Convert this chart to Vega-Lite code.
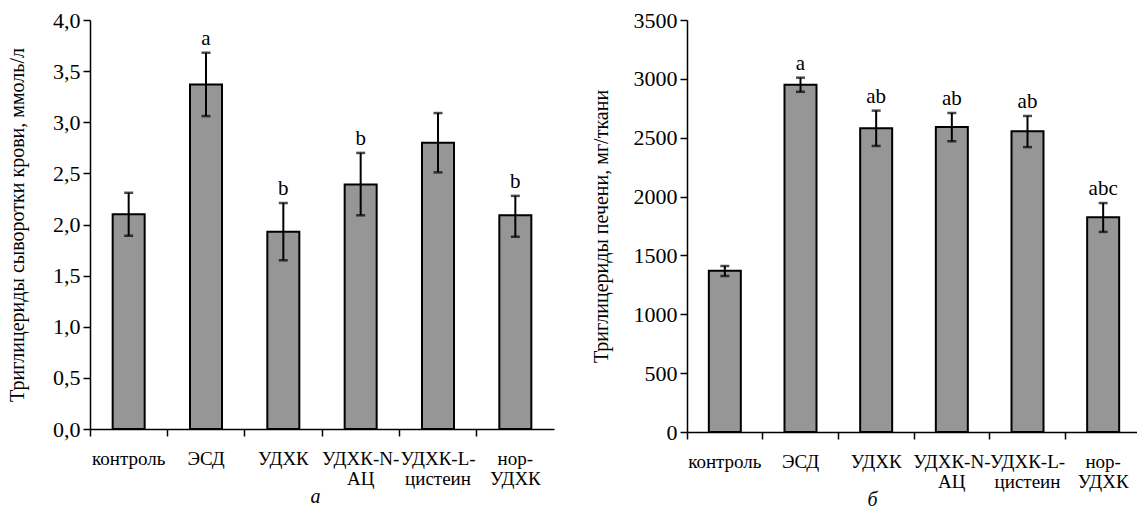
{
  "$schema": "https://vega.github.io/schema/vega-lite/v6.json",
  "background": "white",
  "padding": {"left": 7, "top": 9, "right": 0, "bottom": 0},
  "config": {
    "font": "Liberation Serif",
    "view": {"stroke": null},
    "text": {"font": "Liberation Serif"},
    "axis": {"domainColor": "black", "tickColor": "black", "labelColor": "black", "titleColor": "black", "labelFont": "Liberation Serif", "titleFont": "Liberation Serif", "titleFontWeight": "normal", "domainWidth": 1.5, "tickWidth": 1.5}
  },
  "datasets": {
    "blood": [
      {"group": "контроль", "value": 2.10, "lo": 1.89, "hi": 2.31, "sig": ""},
      {"group": "ЭСД", "value": 3.37, "lo": 3.06, "hi": 3.68, "sig": "a"},
      {"group": "УДХК", "value": 1.93, "lo": 1.65, "hi": 2.21, "sig": "b"},
      {"group": "УДХК-N-|АЦ", "value": 2.39, "lo": 2.09, "hi": 2.70, "sig": "b"},
      {"group": "УДХК-L-|цистеин", "value": 2.80, "lo": 2.51, "hi": 3.09, "sig": ""},
      {"group": "нор-|УДХК", "value": 2.09, "lo": 1.88, "hi": 2.28, "sig": "b"}
    ],
    "liver": [
      {"group": "контроль", "value": 1370, "lo": 1325, "hi": 1410, "sig": ""},
      {"group": "ЭСД", "value": 2950, "lo": 2890, "hi": 3010, "sig": "a"},
      {"group": "УДХК", "value": 2580, "lo": 2430, "hi": 2730, "sig": "ab"},
      {"group": "УДХК-N-|АЦ", "value": 2590, "lo": 2470, "hi": 2710, "sig": "ab"},
      {"group": "УДХК-L-|цистеин", "value": 2555, "lo": 2420, "hi": 2685, "sig": "ab"},
      {"group": "нор-|УДХК", "value": 1825, "lo": 1700, "hi": 1945, "sig": "abc"}
    ]
  },
  "hconcat": [
    {
      "width": 464,
      "height": 409,
      "data": {"name": "blood"},
      "encoding": {
        "x": {"field": "group", "type": "nominal", "sort": null, "scale": {"paddingInner": 0, "paddingOuter": 0},
          "axis": {"title": "а", "titleFont": "Liberation Serif", "titleFontStyle": "italic", "titleFontSize": 20, "titlePadding": -2, "titleX": 225, "labelAngle": 0, "labelFont": "Liberation Serif", "labelFontSize": 19, "labelExpr": "split(datum.label, '|')", "labelPadding": 13, "labelLineHeight": 20, "ticks": true, "tickSize": 7, "bandPosition": 0, "labelBound": false, "labelOverlap": false}}
      },
      "layer": [
        {"mark": {"type": "bar", "size": 32, "fill": "#969696", "stroke": "black", "strokeWidth": 2},
          "encoding": {"y": {"field": "value", "type": "quantitative", "scale": {"domain": [0, 4]},
            "axis": {"title": "Триглицериды сыворотки крови, ммоль/л", "titleFont": "Liberation Serif", "titleFontSize": 20, "titlePadding": 25, "labelFont": "Liberation Serif", "labelFontSize": 22, "values": [0, 0.5, 1, 1.5, 2, 2.5, 3, 3.5, 4], "labelExpr": "replace(format(datum.value, '.1f'), '.', ',')", "grid": false, "tickSize": 7, "labelPadding": 3}}}},
        {"mark": {"type": "rule", "color": "black", "strokeWidth": 2},
          "encoding": {"y": {"field": "lo", "type": "quantitative"}, "y2": {"field": "hi"}}},
        {"mark": {"type": "tick", "color": "black", "thickness": 2.5, "size": 9},
          "encoding": {"y": {"field": "lo", "type": "quantitative"}}},
        {"mark": {"type": "tick", "color": "black", "thickness": 2.5, "size": 9},
          "encoding": {"y": {"field": "hi", "type": "quantitative"}}},
        {"mark": {"type": "text", "baseline": "bottom", "dy": -4, "fontSize": 21, "font": "Liberation Serif"},
          "encoding": {"y": {"field": "hi", "type": "quantitative"}, "text": {"field": "sig"}}}
      ]
    },
    {
      "width": 454,
      "height": 412,
      "data": {"name": "liver"},
      "encoding": {
        "x": {"field": "group", "type": "nominal", "sort": null, "scale": {"paddingInner": 0, "paddingOuter": 0},
          "axis": {"title": "б", "titleFont": "Liberation Serif", "titleFontStyle": "italic", "titleFontSize": 20, "titlePadding": -2, "titleX": 185, "labelAngle": 0, "labelFont": "Liberation Serif", "labelFontSize": 19, "labelExpr": "split(datum.label, '|')", "labelPadding": 13, "labelLineHeight": 20, "ticks": true, "tickSize": 7, "bandPosition": 0, "labelBound": false, "labelOverlap": false}}
      },
      "layer": [
        {"mark": {"type": "bar", "size": 32, "fill": "#969696", "stroke": "black", "strokeWidth": 2},
          "encoding": {"y": {"field": "value", "type": "quantitative", "scale": {"domain": [0, 3500]},
            "axis": {"title": "Триглицериды печени, мг/ткани", "titleFont": "Liberation Serif", "titleFontSize": 20, "titlePadding": 22, "labelFont": "Liberation Serif", "labelFontSize": 22, "values": [0, 500, 1000, 1500, 2000, 2500, 3000, 3500], "format": "d", "grid": false, "tickSize": 7, "labelPadding": 3}}}},
        {"mark": {"type": "rule", "color": "black", "strokeWidth": 2},
          "encoding": {"y": {"field": "lo", "type": "quantitative"}, "y2": {"field": "hi"}}},
        {"mark": {"type": "tick", "color": "black", "thickness": 2.5, "size": 9},
          "encoding": {"y": {"field": "lo", "type": "quantitative"}}},
        {"mark": {"type": "tick", "color": "black", "thickness": 2.5, "size": 9},
          "encoding": {"y": {"field": "hi", "type": "quantitative"}}},
        {"mark": {"type": "text", "baseline": "bottom", "dy": -4, "fontSize": 21, "font": "Liberation Serif"},
          "encoding": {"y": {"field": "hi", "type": "quantitative"}, "text": {"field": "sig"}}}
      ]
    }
  ],
  "spacing": 37
}
